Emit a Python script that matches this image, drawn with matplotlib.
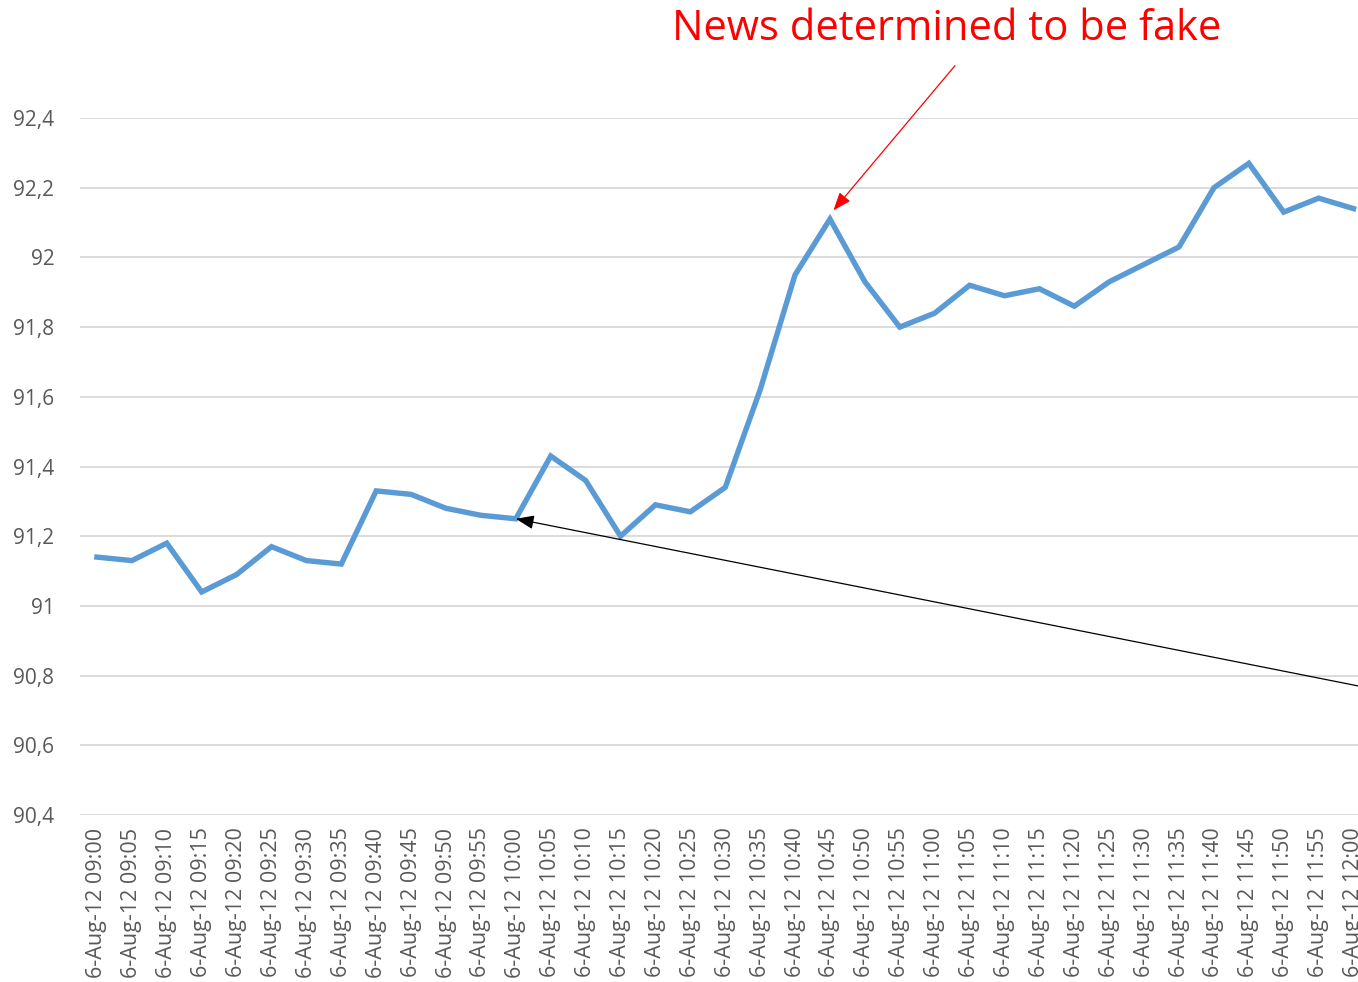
import matplotlib.pyplot as plt
import numpy as np

plt.rcParams['font.family'] = ['Open Sans', 'DejaVu Sans']

times = ['09:00', '09:05', '09:10', '09:15', '09:20', '09:25', '09:30', '09:35',
         '09:40', '09:45', '09:50', '09:55', '10:00', '10:05', '10:10', '10:15',
         '10:20', '10:25', '10:30', '10:35', '10:40', '10:45', '10:50', '10:55',
         '11:00', '11:05', '11:10', '11:15', '11:20', '11:25', '11:30', '11:35',
         '11:40', '11:45', '11:50', '11:55', '12:00']
prices = [91.14, 91.13, 91.18, 91.04, 91.09, 91.17, 91.13, 91.12,
          91.33, 91.32, 91.28, 91.26, 91.25, 91.43, 91.36, 91.20,
          91.29, 91.27, 91.34, 91.62, 91.95, 92.11, 91.93, 91.80,
          91.84, 91.92, 91.89, 91.91, 91.86, 91.93, 91.98, 92.03,
          92.20, 92.27, 92.13, 92.17, 92.14]
yticks = [90.4, 90.6, 90.8, 91.0, 91.2, 91.4, 91.6, 91.8, 92.0, 92.2, 92.4]
labels = ['6-Aug-12 ' + t for t in times]

W, H = 1358, 982
fig = plt.figure(figsize=(W / 100, H / 100), dpi=100)
# axes run a bit past the right edge, as in the cropped original
ax = fig.add_axes([79.5 / W, 1 - 815 / H, (1371 - 79.5) / W, (815 - 118) / H])

x = np.arange(len(times))
ax.plot(x, prices, color='#5b9bd5', lw=3.9, solid_joinstyle='miter', zorder=3)

ax.set_xlim(-0.5, len(times) - 0.5)
ax.set_ylim(90.4, 92.4)
ax.set_yticks(yticks)
ax.set_yticklabels([('%g' % v).replace('.', ',') for v in yticks])
ax.set_xticks(x)
ax.set_xticklabels(labels, rotation=90)
ax.tick_params(axis='both', length=0, colors='#595959')
ax.tick_params(axis='y', pad=18, labelsize=15)
ax.tick_params(axis='x', pad=9, labelsize=15.5)
ax.grid(axis='y', color='#d9d9d9', lw=1.3)
ax.set_axisbelow(True)
for s in ax.spines.values():
    s.set_visible(False)

fig.text(947 / W, 1 - 29 / H, 'News determined to be fake', color='#ff0000',
         fontsize=30, ha='center', va='center')

ax.annotate('', xy=(21.1, 92.135), xytext=(24.58, 92.55), annotation_clip=False,
            arrowprops=dict(arrowstyle='-|>,head_length=1.1,head_width=0.42',
                            color='#ff0000', lw=0.9, shrinkA=0, shrinkB=0))
ax.annotate('', xy=(12, 91.25), xytext=(36.15, 90.77), annotation_clip=False,
            arrowprops=dict(arrowstyle='-|>,head_length=1.1,head_width=0.42',
                            color='black', lw=0.9, shrinkA=0, shrinkB=0))

fig.savefig('out.png', dpi=100)
